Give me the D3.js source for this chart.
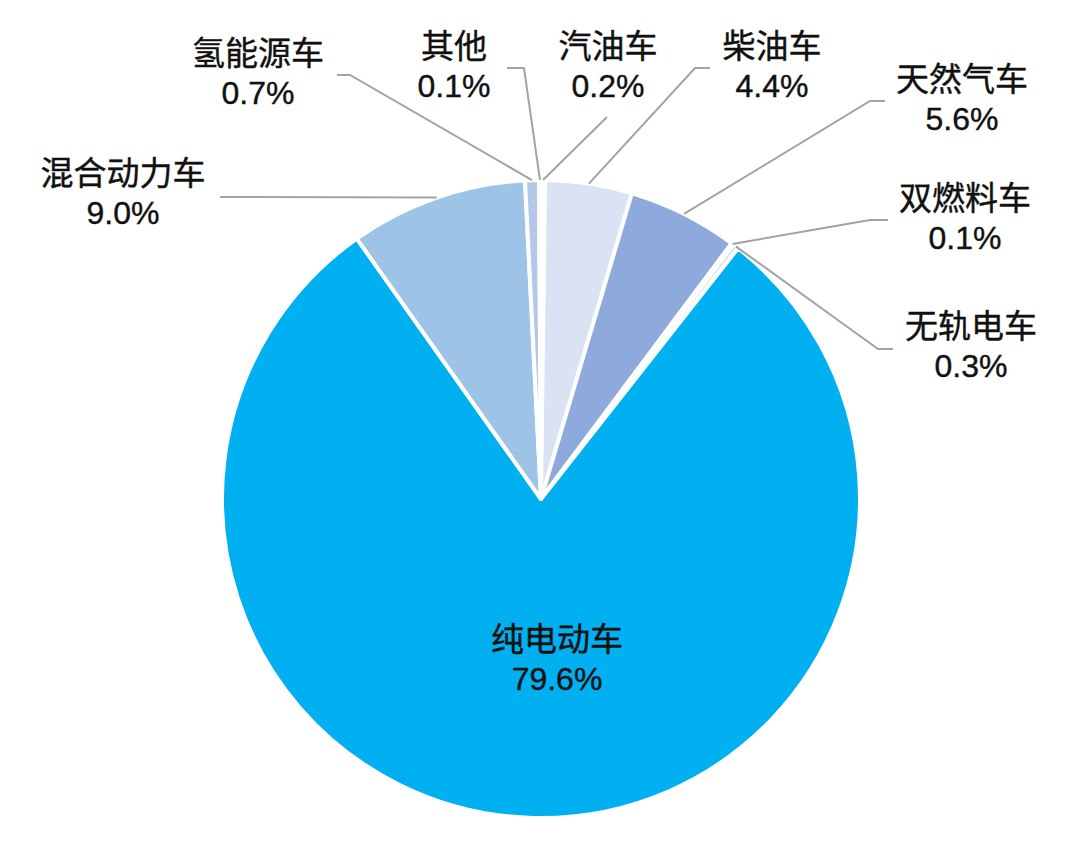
<!DOCTYPE html>
<html>
<head>
<meta charset="utf-8">
<script src="https://cdn.jsdelivr.net/npm/d3@7"></script>
<style>
    body { margin: 0; background: #ffffff; }
    text { font-family: "Liberation Sans", Arial, "Noto Sans CJK SC", sans-serif; fill: #111111; stroke: #111111; stroke-width: 0.4px; }
</style>
</head>
<body>
<div id="chart"></div>
<script>
// data
var categories = ["汽油车", "柴油车", "天然气车", "双燃料车", "无轨电车", "纯电动车", "混合动力车", "氢能源车", "其他"];
var shares = [0.2, 4.4, 5.6, 0.1, 0.3, 79.6, 9.0, 0.7, 0.1];
var sliceColors = ["#dfe7f4", "#dae3f3", "#8eaadc", "#c9d7ee", "#d6e4f4", "#00b0f0", "#9dc3e7", "#b4c7e7", "#e6edf7"];

// label layout: text centre / first baseline, and the elbow of the leader line
var labelLayout = [
    {x: 608, y: 58, lx: 607, ly: 117, ex: 607},
    {x: 772, y: 58, lx: 710, ly: 68, ex: 695},
    {x: 962, y: 91, lx: 885, ly: 101, ex: 870},
    {x: 965, y: 210, lx: 888, ly: 220, ex: 870},
    {x: 971, y: 338, lx: 893, ly: 349, ex: 878},
    {x: 557, y: 651, lx: null},
    {x: 123, y: 185, lx: 220, ly: 197, ex: 220},
    {x: 258, y: 65, lx: 337, ly: 75, ex: 350},
    {x: 454, y: 58, lx: 507, ly: 68, ex: 524}
];

var width = 1080;
var height = 851;
var cx = 541, cy = 499, radius = 319;

var svg = d3.select("#chart").append("svg")
    .attr("width", width)
    .attr("height", height)

var g = svg.append("g")
    .attr("transform", "translate(" + cx + "," + cy + ")")

var data = categories.map(function (c, i) {
    return {name: c, value: shares[i], color: sliceColors[i], pos: labelLayout[i]};
})

var pie = d3.pie()
    .sort(null)
    .value(function (d) { return d.value; })

var arc = d3.arc()
    .innerRadius(0)
    .outerRadius(radius)

var edge = d3.arc()
    .innerRadius(radius)
    .outerRadius(radius)

var arcs = pie(data);

g.selectAll("path.slice")
    .data(arcs)
    .enter()
    .append("path")
    .attr("class", "slice")
    .attr("d", arc)
    .attr("fill", function (d) { return d.data.color; })
    .attr("stroke", "#ffffff")
    .attr("stroke-width", 4)
    .attr("stroke-linejoin", "round")

// leader lines
var line = d3.line();
svg.selectAll("path.leader")
    .data(arcs.filter(function (d) { return d.data.pos.lx != null; }))
    .enter()
    .append("path")
    .attr("class", "leader")
    .attr("d", function (d) {
        var p = edge.centroid(d);
        var pos = d.data.pos;
        return line([[pos.lx, pos.ly], [pos.ex, pos.ly], [p[0] + cx, p[1] + cy]]);
    })
    .attr("fill", "none")
    .attr("stroke", "#a3a3a3")
    .attr("stroke-width", 2)

// labels
var fmt = d3.format(".1f");
var labels = svg.selectAll("text.label")
    .data(arcs)
    .enter()
    .append("text")
    .attr("class", "label")
    .attr("text-anchor", "middle")

labels.append("tspan")
    .attr("x", function (d) { return d.data.pos.x; })
    .attr("y", function (d) { return d.data.pos.y; })
    .style("font-size", "33px")
    .text(function (d) { return d.data.name; })

labels.append("tspan")
    .attr("x", function (d) { return d.data.pos.x; })
    .attr("y", function (d) { return d.data.pos.y + 39; })
    .style("font-size", "32px")
    .text(function (d) { return fmt(d.data.value) + "%"; })
</script>
</body>
</html>
